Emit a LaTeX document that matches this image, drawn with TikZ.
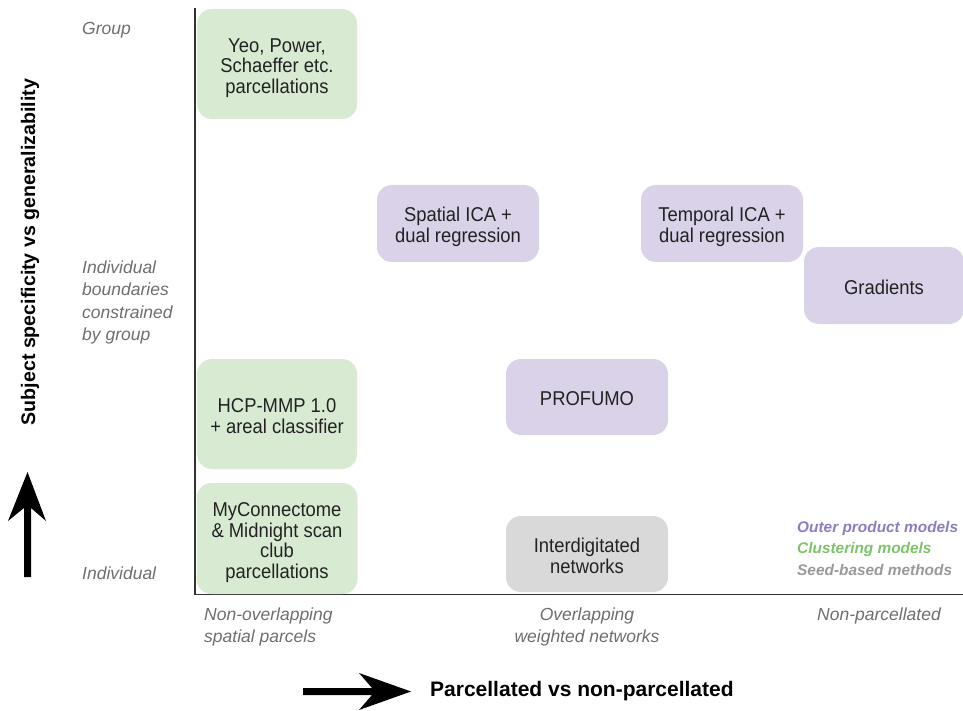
\documentclass[tikz,border=0pt]{standalone}
\usepackage{fontspec}
\setmainfont{Liberation Sans}
\newfontfamily\boxfont{Liberation Sans}[FakeStretch=0.92]
\newcommand\boxtop{\rule{0pt}{22pt}}
\newcommand\boxbot{\rule[-4.5pt]{0pt}{4.5pt}}
\definecolor{gfill}{HTML}{D9EAD3}
\definecolor{pfill}{HTML}{D9D2E9}
\definecolor{sfill}{HTML}{D9D9D9}
\definecolor{txt}{HTML}{222222}
\definecolor{lab}{HTML}{6E6E6E}
\definecolor{legp}{HTML}{8E7CC3}
\definecolor{legg}{HTML}{7DC36A}
\definecolor{legs}{HTML}{999999}
\definecolor{axis}{HTML}{333333}
\tikzset{
  box/.style={rectangle, rounded corners=15pt, inner sep=0pt, align=center, text=txt,
    font=\boxfont\fontsize{20}{20.5}\selectfont},
  gbox/.style={box, fill=gfill},
  pbox/.style={box, fill=pfill},
  sbox/.style={box, fill=sfill},
  axlab/.style={inner sep=0pt, text=lab, font=\fontsize{17.5}{22.5}\selectfont\itshape},
  leg/.style={inner sep=0pt, anchor=west, font=\fontsize{15.4}{20}\selectfont\bfseries\itshape},
  bigarrow/.style={fill=black}
}
\begin{document}
\begin{tikzpicture}[x=1pt,y=-1pt]
\useasboundingbox (0,0) rectangle (963,711);
% axes
\coordinate (top) at (195,8);
\coordinate (origin) at (195,594.5);
\coordinate (right) at (963,594.5);
\draw[axis, line width=1.4pt] (top) -- (origin) -- (right);
% boxes
\node[gbox, minimum width=160pt, minimum height=110pt] (yeo) at (277,64) {\boxtop Yeo, Power,\\Schaeffer etc.\\parcellations\boxbot};
\node[gbox, minimum width=160pt, minimum height=110pt] (hcp) at (277,414) {\boxtop HCP-MMP 1.0\\+ areal classifier\boxbot};
\node[gbox, minimum width=161pt, minimum height=111pt] (myc) at (277,538.5) {\boxtop MyConnectome\\\& Midnight scan\\club\\parcellations\boxbot};
\node[pbox, minimum width=162pt, minimum height=77pt] (sica) at (458,223.5) {\boxtop Spatial ICA +\\dual regression\boxbot};
\node[pbox, minimum width=162pt, minimum height=77pt] (tica) at (722,223.5) {\boxtop Temporal ICA +\\dual regression\boxbot};
\node[pbox, minimum width=160pt, minimum height=77pt] (grad) at (884,285.5) {\boxtop Gradients\boxbot};
\node[pbox, minimum width=162pt, minimum height=76pt] (prof) at (587,397) {\boxtop PROFUMO\boxbot};
\node[sbox, minimum width=162pt, minimum height=76pt] (inter) at (587,554) {\boxtop Interdigitated\\networks\boxbot};
% y labels
\node[axlab, anchor=west] (grp) at (82,30) {Group};
\node[axlab, anchor=west, align=left] (ibc) at (82,302.5) {Individual\\boundaries\\constrained\\by group};
\node[axlab, anchor=west] (ind) at (82,573) {Individual};
% x labels
\node[axlab, anchor=north west, align=left] (nop) at (204,607.5) {Non-overlapping\\spatial parcels};
\node[axlab, anchor=north, align=center] (ovl) at (587,607.5) {Overlapping\\weighted networks};
\node[axlab, anchor=north] (npc) at (879,607.5) {Non-parcellated};
% legend
\node[leg, text=legp] (l1) at (797,529) {Outer product models};
\node[leg, text=legg] (l2) at (797,549.5) {Clustering models};
\node[leg, text=legs] (l3) at (797,570) {Seed-based methods};
% axis titles
\node[inner sep=0pt, rotate=90, font=\fontsize{19.6}{24}\selectfont\bfseries] (ytitle) at (30,252) {Subject specificity vs generalizability};
\node[inner sep=0pt, anchor=west, font=\fontsize{21}{25}\selectfont\bfseries] (xtitle) at (430,691) {Parcellated vs non-parcellated};
% big arrows
\fill[bigarrow] (24,577) -- (24,508) -- (8,521) -- (27.5,472) -- (46,521) -- (31,508) -- (31,577) -- cycle;
\fill[bigarrow] (303,688) -- (372,688) -- (359,673) -- (411,691.5) -- (359,710) -- (372,695) -- (303,695) -- cycle;
\end{tikzpicture}
\end{document}
